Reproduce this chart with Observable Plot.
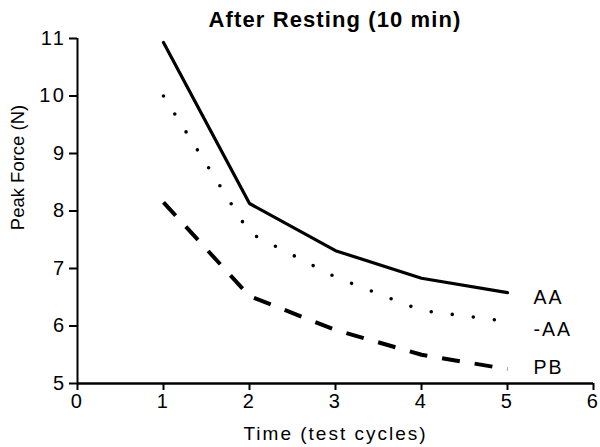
<!DOCTYPE html>
<html><head><meta charset="utf-8">
<script src="https://cdn.jsdelivr.net/npm/d3@7"></script>
<script src="https://cdn.jsdelivr.net/npm/@observablehq/plot@0.6"></script>
<style>
body{margin:0;background:#fff;}
#wrap{position:relative;width:600px;height:447px;font-family:"Liberation Sans",Arial,Helvetica,sans-serif;}
#title{position:absolute;top:9px;left:77px;width:516px;text-align:center;font-weight:bold;font-size:22px;line-height:22px;letter-spacing:1.1px;color:#000;}
#wrap svg text{letter-spacing:2px;}
#wrap svg g[aria-label="x-axis tick label"] text, #wrap svg g[aria-label="y-axis tick label"] text{letter-spacing:2.5px;}
</style></head><body>
<div id="wrap"><div id="title"></div></div>
<script>
const title = "After Resting (10 min)";
const xLabel = "Time (test cycles)";
const yLabel = "Peak Force (N)";
const cycles = [1, 2, 3, 4, 5];
const aa = [10.93, 8.13, 7.31, 6.83, 6.58];
const minusAA = [10.0, 7.62, 6.85, 6.27, 6.08];
const pb = [8.15, 6.52, 5.93, 5.5, 5.25];
const seriesNames = ["AA", "-AA", "PB"];
const labelY = [6.49, 5.94, 5.28];
const xTicks = [0, 1, 2, 3, 4, 5, 6];
const yTicks = [5, 6, 7, 8, 9, 10, 11];

document.getElementById("title").textContent = title;

const rows = (vals) => cycles.map((c, i) => ({x: c, y: vals[i]}));
const labels = seriesNames.map((n, i) => ({name: n, x: cycles[cycles.length - 1], y: labelY[i]}));

const plot = Plot.plot({
  width: 600,
  height: 447,
  marginTop: 38,
  marginRight: 7,
  marginBottom: 64,
  marginLeft: 77,
  style: {fontFamily: '"Liberation Sans", Arial, Helvetica, sans-serif', color: "#000", background: "transparent", overflow: "visible"},
  x: {domain: [0, 6]},
  y: {domain: [5, 11]},
  marks: [
    Plot.axisX({ticks: xTicks, tickFormat: d => String(d), tickSize: 7, tickPadding: 3, fontSize: 20, strokeWidth: 2, label: null}),
    Plot.axisY({ticks: yTicks, tickFormat: d => String(d), tickSize: 8, tickPadding: 3, fontSize: 20, strokeWidth: 2, label: null}),
    Plot.ruleX([0], {stroke: "#000", strokeWidth: 2}),
    Plot.ruleY([5], {stroke: "#000", strokeWidth: 2.5}),
    Plot.line(rows(aa), {x: "x", y: "y", stroke: "#000", strokeWidth: 3.2}),
    Plot.line(rows(minusAA), {x: "x", y: "y", stroke: "#000", strokeWidth: 3.6, strokeDasharray: "0 21.2", strokeLinecap: "round"}),
    Plot.line(rows(pb), {x: "x", y: "y", stroke: "#000", strokeWidth: 4, strokeDasharray: "18 15", strokeLinecap: "butt"}),
    Plot.text(labels, {x: "x", y: "y", text: "name", textAnchor: "start", dx: 26, fontSize: 19.5, lineAnchor: "middle", fill: "#000"}),
    Plot.text([xLabel], {frameAnchor: "bottom", text: d => d, textAnchor: "middle", dy: 50, fontSize: 19, lineAnchor: "middle", fill: "#000"}),
    Plot.text([yLabel], {frameAnchor: "left", text: d => d, textAnchor: "middle", rotate: -90, dx: -59, dy: -43.5, fontSize: 18.5, lineAnchor: "middle", fill: "#000"})
  ]
});
d3.select(plot).selectAll("text").filter(function() { return this.textContent === yLabel; }).style("letter-spacing", "0px");
document.getElementById("wrap").appendChild(plot);
</script>
</body></html>
